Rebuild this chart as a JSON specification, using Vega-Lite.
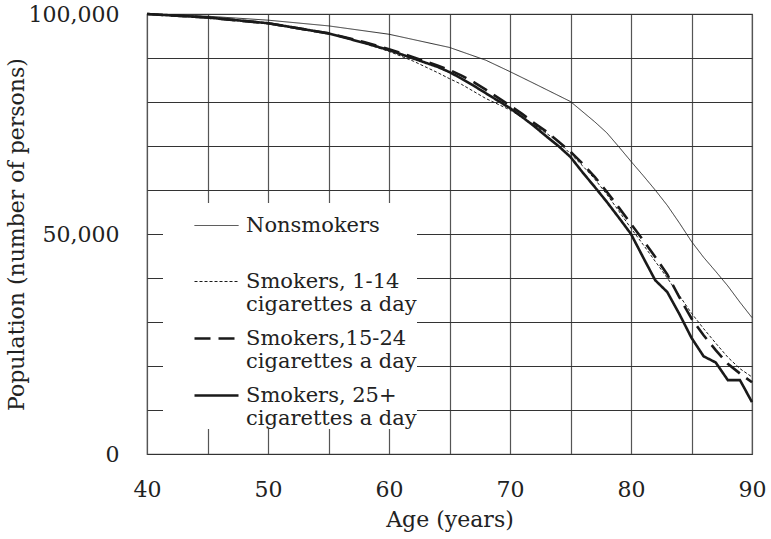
{
  "$schema": "https://vega.github.io/schema/vega-lite/v6.json",
  "width": 605,
  "height": 440,
  "autosize": {"type": "none"},
  "padding": {"left": 147, "top": 14, "right": 19, "bottom": 85},
  "background": "white",
  "config": {
    "view": {"stroke": "#555", "strokeWidth": 1.2},
    "font": "DejaVu Serif"
  },
  "data": {
    "values": [
      {"age": 40, "pop": 100000, "group": "Nonsmokers"},
      {"age": 45, "pop": 99500, "group": "Nonsmokers"},
      {"age": 50, "pop": 98600, "group": "Nonsmokers"},
      {"age": 55, "pop": 97300, "group": "Nonsmokers"},
      {"age": 60, "pop": 95400, "group": "Nonsmokers"},
      {"age": 65, "pop": 92400, "group": "Nonsmokers"},
      {"age": 68, "pop": 89500, "group": "Nonsmokers"},
      {"age": 70, "pop": 86900, "group": "Nonsmokers"},
      {"age": 72, "pop": 84200, "group": "Nonsmokers"},
      {"age": 75, "pop": 80100, "group": "Nonsmokers"},
      {"age": 77, "pop": 75500, "group": "Nonsmokers"},
      {"age": 78, "pop": 73000, "group": "Nonsmokers"},
      {"age": 79, "pop": 69800, "group": "Nonsmokers"},
      {"age": 80, "pop": 66500, "group": "Nonsmokers"},
      {"age": 81, "pop": 63300, "group": "Nonsmokers"},
      {"age": 82, "pop": 60000, "group": "Nonsmokers"},
      {"age": 83, "pop": 56500, "group": "Nonsmokers"},
      {"age": 84, "pop": 52500, "group": "Nonsmokers"},
      {"age": 85, "pop": 48300, "group": "Nonsmokers"},
      {"age": 86, "pop": 44700, "group": "Nonsmokers"},
      {"age": 87, "pop": 41500, "group": "Nonsmokers"},
      {"age": 88, "pop": 38200, "group": "Nonsmokers"},
      {"age": 89, "pop": 34500, "group": "Nonsmokers"},
      {"age": 90, "pop": 31000, "group": "Nonsmokers"},

      {"age": 40, "pop": 100000, "group": "Smokers, 1-14 cigarettes a day"},
      {"age": 45, "pop": 99300, "group": "Smokers, 1-14 cigarettes a day"},
      {"age": 50, "pop": 98000, "group": "Smokers, 1-14 cigarettes a day"},
      {"age": 55, "pop": 95600, "group": "Smokers, 1-14 cigarettes a day"},
      {"age": 58, "pop": 93300, "group": "Smokers, 1-14 cigarettes a day"},
      {"age": 60, "pop": 91500, "group": "Smokers, 1-14 cigarettes a day"},
      {"age": 62, "pop": 89300, "group": "Smokers, 1-14 cigarettes a day"},
      {"age": 64, "pop": 86700, "group": "Smokers, 1-14 cigarettes a day"},
      {"age": 65, "pop": 85300, "group": "Smokers, 1-14 cigarettes a day"},
      {"age": 66, "pop": 84000, "group": "Smokers, 1-14 cigarettes a day"},
      {"age": 68, "pop": 80800, "group": "Smokers, 1-14 cigarettes a day"},
      {"age": 70, "pop": 78200, "group": "Smokers, 1-14 cigarettes a day"},
      {"age": 72, "pop": 74800, "group": "Smokers, 1-14 cigarettes a day"},
      {"age": 74, "pop": 71000, "group": "Smokers, 1-14 cigarettes a day"},
      {"age": 75, "pop": 68200, "group": "Smokers, 1-14 cigarettes a day"},
      {"age": 76, "pop": 65500, "group": "Smokers, 1-14 cigarettes a day"},
      {"age": 77, "pop": 62500, "group": "Smokers, 1-14 cigarettes a day"},
      {"age": 78, "pop": 59000, "group": "Smokers, 1-14 cigarettes a day"},
      {"age": 79, "pop": 55200, "group": "Smokers, 1-14 cigarettes a day"},
      {"age": 80, "pop": 51300, "group": "Smokers, 1-14 cigarettes a day"},
      {"age": 81, "pop": 47600, "group": "Smokers, 1-14 cigarettes a day"},
      {"age": 82, "pop": 43800, "group": "Smokers, 1-14 cigarettes a day"},
      {"age": 83, "pop": 40000, "group": "Smokers, 1-14 cigarettes a day"},
      {"age": 84, "pop": 36000, "group": "Smokers, 1-14 cigarettes a day"},
      {"age": 85, "pop": 32000, "group": "Smokers, 1-14 cigarettes a day"},
      {"age": 86, "pop": 28500, "group": "Smokers, 1-14 cigarettes a day"},
      {"age": 87, "pop": 25200, "group": "Smokers, 1-14 cigarettes a day"},
      {"age": 88, "pop": 22000, "group": "Smokers, 1-14 cigarettes a day"},
      {"age": 89, "pop": 19400, "group": "Smokers, 1-14 cigarettes a day"},
      {"age": 90, "pop": 17500, "group": "Smokers, 1-14 cigarettes a day"},

      {"age": 40, "pop": 100000, "group": "Smokers,15-24 cigarettes a day"},
      {"age": 45, "pop": 99200, "group": "Smokers,15-24 cigarettes a day"},
      {"age": 50, "pop": 97900, "group": "Smokers,15-24 cigarettes a day"},
      {"age": 55, "pop": 95600, "group": "Smokers,15-24 cigarettes a day"},
      {"age": 58, "pop": 93600, "group": "Smokers,15-24 cigarettes a day"},
      {"age": 60, "pop": 92000, "group": "Smokers,15-24 cigarettes a day"},
      {"age": 62, "pop": 90200, "group": "Smokers,15-24 cigarettes a day"},
      {"age": 64, "pop": 88300, "group": "Smokers,15-24 cigarettes a day"},
      {"age": 65, "pop": 87300, "group": "Smokers,15-24 cigarettes a day"},
      {"age": 66, "pop": 86000, "group": "Smokers,15-24 cigarettes a day"},
      {"age": 67, "pop": 84500, "group": "Smokers,15-24 cigarettes a day"},
      {"age": 68, "pop": 82800, "group": "Smokers,15-24 cigarettes a day"},
      {"age": 69, "pop": 81000, "group": "Smokers,15-24 cigarettes a day"},
      {"age": 70, "pop": 79200, "group": "Smokers,15-24 cigarettes a day"},
      {"age": 71, "pop": 77300, "group": "Smokers,15-24 cigarettes a day"},
      {"age": 72, "pop": 75200, "group": "Smokers,15-24 cigarettes a day"},
      {"age": 73, "pop": 73300, "group": "Smokers,15-24 cigarettes a day"},
      {"age": 74, "pop": 71000, "group": "Smokers,15-24 cigarettes a day"},
      {"age": 75, "pop": 68700, "group": "Smokers,15-24 cigarettes a day"},
      {"age": 76, "pop": 66000, "group": "Smokers,15-24 cigarettes a day"},
      {"age": 77, "pop": 63000, "group": "Smokers,15-24 cigarettes a day"},
      {"age": 78, "pop": 59600, "group": "Smokers,15-24 cigarettes a day"},
      {"age": 79, "pop": 56000, "group": "Smokers,15-24 cigarettes a day"},
      {"age": 80, "pop": 52300, "group": "Smokers,15-24 cigarettes a day"},
      {"age": 81, "pop": 48600, "group": "Smokers,15-24 cigarettes a day"},
      {"age": 82, "pop": 44800, "group": "Smokers,15-24 cigarettes a day"},
      {"age": 83, "pop": 40800, "group": "Smokers,15-24 cigarettes a day"},
      {"age": 84, "pop": 35600, "group": "Smokers,15-24 cigarettes a day"},
      {"age": 85, "pop": 30800, "group": "Smokers,15-24 cigarettes a day"},
      {"age": 86, "pop": 27000, "group": "Smokers,15-24 cigarettes a day"},
      {"age": 87, "pop": 23600, "group": "Smokers,15-24 cigarettes a day"},
      {"age": 88, "pop": 20500, "group": "Smokers,15-24 cigarettes a day"},
      {"age": 89, "pop": 18300, "group": "Smokers,15-24 cigarettes a day"},
      {"age": 90, "pop": 16300, "group": "Smokers,15-24 cigarettes a day"},

      {"age": 40, "pop": 100000, "group": "Smokers, 25+ cigarettes a day"},
      {"age": 45, "pop": 99200, "group": "Smokers, 25+ cigarettes a day"},
      {"age": 50, "pop": 97900, "group": "Smokers, 25+ cigarettes a day"},
      {"age": 55, "pop": 95600, "group": "Smokers, 25+ cigarettes a day"},
      {"age": 58, "pop": 93400, "group": "Smokers, 25+ cigarettes a day"},
      {"age": 60, "pop": 91800, "group": "Smokers, 25+ cigarettes a day"},
      {"age": 62, "pop": 89900, "group": "Smokers, 25+ cigarettes a day"},
      {"age": 64, "pop": 88000, "group": "Smokers, 25+ cigarettes a day"},
      {"age": 65, "pop": 86800, "group": "Smokers, 25+ cigarettes a day"},
      {"age": 66, "pop": 85300, "group": "Smokers, 25+ cigarettes a day"},
      {"age": 67, "pop": 83700, "group": "Smokers, 25+ cigarettes a day"},
      {"age": 68, "pop": 82000, "group": "Smokers, 25+ cigarettes a day"},
      {"age": 69, "pop": 80300, "group": "Smokers, 25+ cigarettes a day"},
      {"age": 70, "pop": 78600, "group": "Smokers, 25+ cigarettes a day"},
      {"age": 71, "pop": 76600, "group": "Smokers, 25+ cigarettes a day"},
      {"age": 72, "pop": 74500, "group": "Smokers, 25+ cigarettes a day"},
      {"age": 73, "pop": 72200, "group": "Smokers, 25+ cigarettes a day"},
      {"age": 74, "pop": 70000, "group": "Smokers, 25+ cigarettes a day"},
      {"age": 75, "pop": 67500, "group": "Smokers, 25+ cigarettes a day"},
      {"age": 76, "pop": 64000, "group": "Smokers, 25+ cigarettes a day"},
      {"age": 77, "pop": 60700, "group": "Smokers, 25+ cigarettes a day"},
      {"age": 78, "pop": 57300, "group": "Smokers, 25+ cigarettes a day"},
      {"age": 79, "pop": 53700, "group": "Smokers, 25+ cigarettes a day"},
      {"age": 80, "pop": 50000, "group": "Smokers, 25+ cigarettes a day"},
      {"age": 81, "pop": 44700, "group": "Smokers, 25+ cigarettes a day"},
      {"age": 82, "pop": 39500, "group": "Smokers, 25+ cigarettes a day"},
      {"age": 83, "pop": 36800, "group": "Smokers, 25+ cigarettes a day"},
      {"age": 84, "pop": 31800, "group": "Smokers, 25+ cigarettes a day"},
      {"age": 85, "pop": 26400, "group": "Smokers, 25+ cigarettes a day"},
      {"age": 86, "pop": 22200, "group": "Smokers, 25+ cigarettes a day"},
      {"age": 87, "pop": 20800, "group": "Smokers, 25+ cigarettes a day"},
      {"age": 88, "pop": 16800, "group": "Smokers, 25+ cigarettes a day"},
      {"age": 89, "pop": 16800, "group": "Smokers, 25+ cigarettes a day"},
      {"age": 90, "pop": 11800, "group": "Smokers, 25+ cigarettes a day"}
    ]
  },
  "mark": {"type": "line", "color": "#1a1a1a", "strokeCap": "butt", "strokeJoin": "miter"},
  "encoding": {
    "x": {
      "field": "age",
      "type": "quantitative",
      "scale": {"domain": [40, 90], "nice": false, "zero": false},
      "axis": {
        "values": [40, 45, 50, 55, 60, 65, 70, 75, 80, 85, 90],
        "labelExpr": "datum.value % 10 === 0 ? format(datum.value, 'd') : ''",
        "title": "Age (years)",
        "ticks": false,
        "domain": false,
        "grid": true,
        "gridColor": "#555",
        "gridWidth": 1.2,
        "gridOpacity": 1,
        "labelFont": "DejaVu Serif",
        "labelFontSize": 22,
        "labelColor": "#222",
        "labelPadding": 25,
        "labelFlush": false,
        "labelOverlap": false,
        "titleFont": "DejaVu Serif",
        "titleFontSize": 22,
        "titleFontWeight": "normal",
        "titleColor": "#222",
        "titlePadding": 9
      }
    },
    "y": {
      "field": "pop",
      "type": "quantitative",
      "scale": {"domain": [0, 100000], "nice": false},
      "axis": {
        "values": [0, 10000, 20000, 30000, 40000, 50000, 60000, 70000, 80000, 90000, 100000],
        "labelExpr": "datum.value % 50000 === 0 ? format(datum.value, ',') : ''",
        "title": "Population (number of persons)",
        "ticks": false,
        "domain": false,
        "grid": true,
        "gridColor": "#333",
        "gridWidth": 1,
        "gridOpacity": 1,
        "labelFont": "DejaVu Serif",
        "labelFontSize": 22,
        "labelColor": "#222",
        "labelPadding": 28,
        "labelFlush": false,
        "labelOverlap": false,
        "labelBaseline": "middle",
        "titleFont": "DejaVu Serif",
        "titleFontSize": 22,
        "titleFontWeight": "normal",
        "titleColor": "#222",
        "titlePadding": 0
      }
    },
    "strokeDash": {
      "field": "group",
      "type": "nominal",
      "scale": {
        "domain": ["Nonsmokers", "Smokers, 1-14 cigarettes a day", "Smokers,15-24 cigarettes a day", "Smokers, 25+ cigarettes a day"],
        "range": [[1, 0], [3, 2], [16, 8], [1, 0]]
      },
      "legend": {
        "title": null,
        "orient": "none",
        "legendX": 16,
        "legendY": 189,
        "fillColor": "white",
        "padding": 0,
        "symbolOffset": 30,
        "symbolType": "stroke",
        "symbolSize": 1936,
        "symbolStrokeColor": "#1a1a1a",
        "labelOffset": 6,
        "labelFont": "DejaVu Serif",
        "labelFontSize": 21,
        "labelColor": "#222",
        "labelLimit": 400,
        "rowPadding": 0,
        "labelExpr": "datum.label == 'Nonsmokers' ? ['Nonsmokers', ' '] : split(replace(datum.label, ' cigarettes', '|cigarettes'), '|')"
      }
    },
    "strokeWidth": {
      "field": "group",
      "type": "nominal",
      "scale": {
        "type": "ordinal",
        "domain": ["Nonsmokers", "Smokers, 1-14 cigarettes a day", "Smokers,15-24 cigarettes a day", "Smokers, 25+ cigarettes a day"],
        "range": [0.9, 1, 2.6, 2.6]
      }
    }
  }
}
